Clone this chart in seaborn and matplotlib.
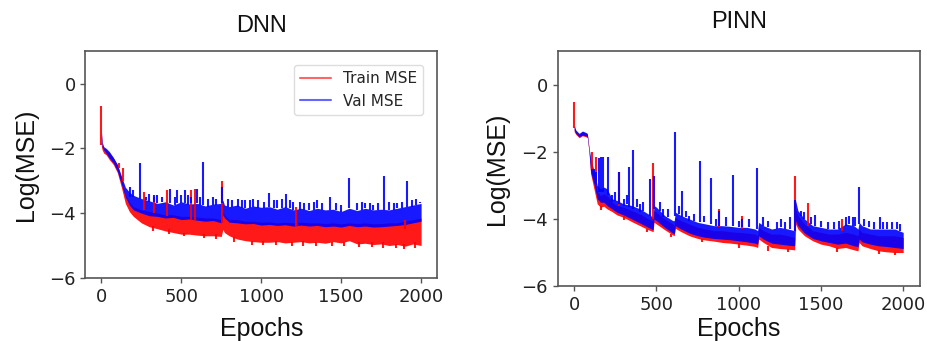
import matplotlib
matplotlib.use("Agg")
import pandas as pd
import matplotlib.pyplot as plt
import seaborn as sns

# -----------------------------------------------------------
# Data (log MSE, lower / upper edge of the noisy band)
# -----------------------------------------------------------
dnn_epochs = [0, 5, 15, 30, 50, 75, 100, 125, 150, 175,
              200, 250, 300, 350, 400, 450, 500, 550, 600, 650, 700, 750,
              760, 770, 800, 850, 900, 950, 1000, 1050, 1100, 1150, 1200,
              1250, 1300, 1350, 1400, 1450, 1500, 1550, 1600, 1650, 1700,
              1750, 1800, 1850, 1900, 1950, 2000]
dnn_train_low = [-1.95, -2.05, -2.15, -2.2, -2.35, -2.5, -2.75, -3.2, -3.7, -3.95,
                 -4.1, -4.3, -4.42, -4.48, -4.55, -4.6, -4.65, -4.65, -4.68, -4.7, -4.7, -4.72,
                 -4.5, -4.6, -4.7, -4.8, -4.85, -4.88, -4.9, -4.9, -4.88, -4.92, -4.9,
                 -4.88, -4.92, -4.9, -4.93, -4.88, -4.92, -4.85, -4.95, -4.93, -4.97,
                 -4.95, -5.0, -4.97, -5.02, -4.95, -5.0]
dnn_train_high = [-1.5, -1.9, -2.0, -2.05, -2.15, -2.3, -2.5, -2.9, -3.45, -3.65,
                  -3.8, -3.9, -3.95, -4.0, -4.05, -4.05, -4.1, -4.1, -4.12, -4.15, -4.15, -4.2,
                  -3.95, -4.05, -4.2, -4.2, -4.25, -4.25, -4.28, -4.27, -4.3, -4.28, -4.3,
                  -4.28, -4.3, -4.3, -4.32, -4.3, -4.33, -4.3, -4.32, -4.3, -4.33,
                  -4.32, -4.3, -4.3, -4.25, -4.2, -4.15]
dnn_val_low = [-1.7, -1.95, -2.05, -2.15, -2.3, -2.45, -2.7, -3.1, -3.5, -3.75,
               -3.9, -4.0, -4.08, -4.1, -4.15, -4.13, -4.2, -4.18, -4.22, -4.25, -4.23, -4.3,
               -4.05, -4.15, -4.28, -4.3, -4.33, -4.32, -4.37, -4.35, -4.38, -4.36, -4.4,
               -4.37, -4.4, -4.38, -4.42, -4.4, -4.43, -4.38, -4.42, -4.4, -4.43,
               -4.42, -4.4, -4.38, -4.35, -4.3, -4.25]
dnn_val_high = [-1.45, -1.8, -1.95, -2.0, -2.1, -2.28, -2.5, -2.85, -3.2, -3.35,
                -3.45, -3.55, -3.62, -3.7, -3.65, -3.75, -3.65, -3.72, -3.7, -3.78, -3.72, -3.7,
                -3.6, -3.75, -3.8, -3.75, -3.85, -3.78, -3.82, -3.8, -3.88, -3.8, -3.9,
                -3.85, -3.92, -3.85, -3.9, -3.88, -3.95, -3.85, -3.92, -3.85, -3.9,
                -3.88, -3.9, -3.85, -3.8, -3.75, -3.7]

# single-epoch spikes: epoch, band level, peak
dnn_train_spike_epoch = [0, 109, 136, 266, 330, 408, 563, 586, 754, 1217, 1900,
                         320, 420, 520, 640, 720, 830, 940, 1010, 1090, 1190,
                         1260, 1340, 1440, 1520, 1610, 1690, 1760, 1840, 1890, 1960]
dnn_train_spike_base = [-1.9, -2.6, -3.0, -3.9, -4.0, -4.1, -4.2, -4.2, -4.3, -4.4, -4.5,
                        -4.4, -4.5, -4.6, -4.65, -4.65, -4.75, -4.85, -4.85, -4.85, -4.88,
                        -4.85, -4.88, -4.88, -4.88, -4.9, -4.9, -4.9, -4.95, -4.95, -4.9]
dnn_train_spike_top = [-0.69, -2.45, -2.6, -3.35, -3.5, -3.3, -3.3, -3.25, -3.0, -3.8, -4.2,
                       -4.55, -4.65, -4.72, -4.78, -4.8, -4.88, -4.97, -4.98, -4.98, -5.0,
                       -5.0, -5.02, -5.0, -5.02, -5.05, -5.05, -5.08, -5.08, -5.1, -5.08]
dnn_val_spike_epoch = [180, 241, 280, 330, 380, 430, 471, 523, 560, 601, 637, 700, 754,
                       852, 900, 950, 1047, 1100, 1156, 1200, 1300, 1350, 1428, 1550,
                       1650, 1700, 1770, 1850, 1910, 1990,
                       200, 300, 350, 460, 500, 540, 620, 670, 720, 790, 820, 880, 930,
                       980, 1020, 1080, 1130, 1180, 1240, 1270, 1330, 1380, 1470, 1500,
                       1600, 1630, 1680, 1730, 1800, 1830, 1880, 1940, 1970]
dnn_val_spike_base = [-3.5, -3.55, -3.6, -3.65, -3.65, -3.7, -3.7, -3.7, -3.7, -3.7, -3.75, -3.75, -3.7,
                      -3.8, -3.85, -3.8, -3.8, -3.85, -3.85, -3.9, -3.9, -3.85, -3.9, -3.85,
                      -3.85, -3.9, -3.9, -3.85, -3.8, -3.7,
                      -3.5, -3.65, -3.7, -3.75, -3.7, -3.75, -3.75, -3.8, -3.75, -3.8, -3.8, -3.85, -3.85,
                      -3.85, -3.85, -3.85, -3.85, -3.85, -3.9, -3.9, -3.9, -3.9, -3.9, -3.95,
                      -3.9, -3.9, -3.9, -3.9, -3.9, -3.9, -3.85, -3.8, -3.75]
dnn_val_spike_top = [-3.2, -2.46, -3.5, -3.45, -3.5, -3.25, -3.3, -3.3, -3.5, -3.25, -2.41, -3.5, -3.2,
                     -3.55, -3.6, -3.55, -3.38, -3.6, -3.4, -3.65, -3.7, -3.6, -3.49, -2.91,
                     -3.7, -3.75, -2.84, -3.7, -3.0, -3.65,
                     -3.3, -3.4, -3.45, -3.5, -3.45, -3.45, -3.5, -3.55, -3.55, -3.55, -3.6, -3.6, -3.6,
                     -3.6, -3.65, -3.6, -3.55, -3.6, -3.65, -3.7, -3.65, -3.7, -3.7, -3.75,
                     -3.7, -3.65, -3.7, -3.7, -3.65, -3.7, -3.65, -3.6, -3.55]

pinn_epochs = [0, 10, 30, 50, 70, 80, 90, 100, 120, 140,
               160, 180, 200, 230, 260, 300, 350, 400, 450, 480,
               485, 500, 550, 600, 608, 615, 650, 700, 750, 800,
               850, 900, 950, 1000, 1050, 1100, 1115, 1122, 1150, 1200,
               1250, 1300, 1340, 1346, 1360, 1400, 1450, 1500, 1550, 1600,
               1650, 1700, 1725, 1732, 1750, 1800, 1850, 1900, 1950, 2000]
pinn_train_low = [-1.4, -1.48, -1.58, -1.52, -1.55, -1.58, -2.0, -2.65, -3.1, -3.55,
                  -3.65, -3.62, -3.7, -3.78, -3.88, -3.95, -4.08, -4.2, -4.32, -4.38,
                  -4.1, -4.15, -4.32, -4.48, -4.5, -4.28, -4.38, -4.5, -4.58, -4.63,
                  -4.66, -4.7, -4.72, -4.75, -4.78, -4.82, -4.85, -4.6, -4.7, -4.85,
                  -4.88, -4.9, -4.92, -4.15, -4.3, -4.5, -4.65, -4.75, -4.8, -4.88,
                  -4.85, -4.92, -4.95, -4.7, -4.8, -4.88, -4.95, -4.98, -5.0, -5.0]
pinn_train_high = [-1.25, -1.38, -1.48, -1.4, -1.45, -1.48, -1.9, -2.3, -2.7, -3.2,
                   -3.3, -3.25, -3.3, -3.5, -3.6, -3.65, -3.75, -3.85, -4.0, -4.05,
                   -3.75, -3.8, -4.0, -4.15, -4.2, -3.95, -4.05, -4.15, -4.25, -4.3,
                   -4.35, -4.35, -4.38, -4.4, -4.42, -4.45, -4.5, -4.25, -4.35, -4.45,
                   -4.45, -4.5, -4.55, -3.7, -3.9, -4.15, -4.35, -4.4, -4.45, -4.45,
                   -4.4, -4.45, -4.5, -4.3, -4.4, -4.45, -4.5, -4.5, -4.5, -4.55]
pinn_val_low = [-1.35, -1.45, -1.55, -1.5, -1.52, -1.55, -1.97, -2.6, -2.95, -3.4,
                -3.5, -3.5, -3.6, -3.7, -3.8, -3.88, -4.0, -4.12, -4.25, -4.32,
                -4.0, -4.05, -4.25, -4.42, -4.45, -4.2, -4.3, -4.42, -4.5, -4.55,
                -4.58, -4.6, -4.62, -4.65, -4.68, -4.72, -4.75, -4.5, -4.6, -4.72,
                -4.75, -4.78, -4.8, -4.05, -4.2, -4.42, -4.58, -4.65, -4.7, -4.75,
                -4.72, -4.8, -4.82, -4.6, -4.68, -4.75, -4.8, -4.82, -4.85, -4.88]
pinn_val_high = [-1.2, -1.35, -1.45, -1.38, -1.42, -1.45, -1.85, -2.2, -2.55, -3.0,
                 -3.1, -3.05, -3.1, -3.4, -3.45, -3.55, -3.6, -3.7, -3.85, -3.95,
                 -3.6, -3.65, -3.9, -4.05, -4.05, -3.8, -3.9, -4.0, -4.1, -4.15,
                 -4.2, -4.2, -4.22, -4.25, -4.25, -4.3, -4.35, -4.1, -4.2, -4.3,
                 -4.25, -4.3, -4.35, -3.45, -3.75, -4.0, -4.2, -4.25, -4.3, -4.3,
                 -4.15, -4.2, -4.3, -4.1, -4.2, -4.3, -4.3, -4.3, -4.3, -4.4]

pinn_train_spike_epoch = [0, 107, 132, 273, 482, 880, 1020, 1342, 1423, 1626,
                          160, 300, 440, 590, 780, 1000, 1180, 1300, 1600, 1850, 1950]
pinn_train_spike_base = [-1.3, -2.5, -3.0, -3.6, -4.0, -4.25, -4.3, -4.4, -4.2, -4.35,
                         -3.6, -3.9, -4.3, -4.45, -4.6, -4.72, -4.82, -4.88, -4.85, -4.92, -4.97]
pinn_train_spike_top = [-0.52, -2.0, -2.14, -2.6, -2.34, -3.7, -3.9, -2.71, -3.52, -4.0,
                        -3.72, -4.02, -4.4, -4.55, -4.7, -4.85, -4.95, -4.98, -4.98, -5.05, -5.08]
pinn_val_spike_epoch = [120, 130, 148, 164, 178, 204, 230, 273, 300, 334, 360, 400, 461, 488,
                        540, 613, 658, 700, 765, 830, 880, 964, 1020, 1113, 1230, 1310, 1342,
                        1380, 1464, 1580, 1650, 1692, 1731, 1858, 1900, 1960,
                        250, 320, 380, 420, 520, 570, 640, 680, 730, 790, 860, 920, 1000,
                        1060, 1150, 1180, 1260, 1280, 1400, 1440, 1500, 1540, 1610, 1670,
                        1710, 1760, 1790, 1820, 1880, 1930, 1980]
pinn_val_spike_base = [-2.8, -3.0, -3.2, -3.2, -3.2, -3.3, -3.5, -3.55, -3.6, -3.65, -3.7, -3.8, -3.9, -3.7,
                       -3.95, -3.9, -3.95, -4.05, -4.1, -4.15, -4.2, -4.22, -4.25, -4.3, -4.3, -4.3, -4.35,
                       -3.9, -4.2, -4.3, -4.2, -4.2, -4.15, -4.3, -4.3, -4.3,
                       -3.45, -3.55, -3.65, -3.75, -3.75, -3.95, -3.85, -3.95, -4.05, -4.1, -4.2, -4.2, -4.25,
                       -4.25, -4.2, -4.25, -4.25, -4.3, -4.0, -4.15, -4.25, -4.3, -4.3, -4.15,
                       -4.2, -4.2, -4.25, -4.3, -4.3, -4.3, -4.35]
pinn_val_spike_top = [-2.5, -2.6, -2.19, -2.15, -2.15, -2.15, -3.3, -2.59, -3.4, -2.44, -1.95, -3.55, -2.8, -2.73,
                      -3.7, -1.41, -3.18, -3.9, -2.27, -2.79, -3.75, -2.69, -4.0, -2.49, -4.1, -3.95, -3.42,
                      -3.75, -3.88, -4.1, -3.95, -3.95, -3.06, -3.93, -4.1, -4.1,
                      -3.2, -3.3, -3.4, -3.5, -3.5, -3.7, -3.6, -3.75, -3.85, -3.9, -4.0, -3.95, -4.05,
                      -4.0, -3.95, -4.05, -4.0, -4.1, -3.8, -3.95, -4.05, -4.1, -4.05, -3.9,
                      -3.95, -4.0, -4.05, -4.1, -4.1, -4.1, -4.15]

colors = {"Train MSE": "#ff0000", "Val MSE": "#0000ff"}
alphas = {"Train MSE": 0.9, "Val MSE": 0.9}


def band_frame(epochs, train_lo, train_hi, val_lo, val_hi):
    # two readings per epoch -> seaborn draws the min/max band
    parts = []
    for name, lo, hi in [("Train MSE", train_lo, train_hi), ("Val MSE", val_lo, val_hi)]:
        parts.append(pd.DataFrame({"epoch": epochs + epochs,
                                   "logmse": lo + hi,
                                   "series": name}))
    return pd.concat(parts, ignore_index=True)


dnn_df = band_frame(dnn_epochs, dnn_train_low, dnn_train_high, dnn_val_low, dnn_val_high)
pinn_df = band_frame(pinn_epochs, pinn_train_low, pinn_train_high, pinn_val_low, pinn_val_high)

# -----------------------------------------------------------
# Plot
# -----------------------------------------------------------
sns.set_theme(style="ticks")
plt.rcParams["font.family"] = ["DejaVu Sans"]
plt.rcParams["axes.edgecolor"] = "#555555"
plt.rcParams["xtick.color"] = "#555555"
plt.rcParams["ytick.color"] = "#555555"
plt.rcParams["xtick.labelcolor"] = "#222222"
plt.rcParams["ytick.labelcolor"] = "#222222"

fig, axes = plt.subplots(1, 2, figsize=(9.28, 3.41), dpi=100)
axes[0].set_position([0.092, 0.185, 0.379, 0.665])
axes[1].set_position([0.601, 0.161, 0.390, 0.689])

panels = [
    (axes[0], dnn_df, "DNN",
     {"Train MSE": (dnn_train_spike_epoch, dnn_train_spike_base, dnn_train_spike_top),
      "Val MSE": (dnn_val_spike_epoch, dnn_val_spike_base, dnn_val_spike_top)}, 14, 8, 8),
    (axes[1], pinn_df, "PINN",
     {"Train MSE": (pinn_train_spike_epoch, pinn_train_spike_base, pinn_train_spike_top),
      "Val MSE": (pinn_val_spike_epoch, pinn_val_spike_base, pinn_val_spike_top)}, 17, 9, 2),
]

label_font = {"family": "Liberation Sans", "size": 18, "color": "#111111"}

for ax, df, title, spikes, tpad, ypad, xpad in panels:
    # train first so validation sits on top
    for name in ["Train MSE", "Val MSE"]:
        sns.lineplot(data=df[df["series"] == name], x="epoch", y="logmse",
                     color=colors[name], estimator="mean", errorbar=("pi", 100),
                     err_kws={"alpha": alphas[name], "linewidth": 0},
                     linewidth=0, label=name, ax=ax)
        ep, base, top = spikes[name]
        ax.vlines(ep, base, top, color=colors[name], alpha=alphas[name], linewidth=1.5)

    ax.set_xlim(-100, 2100)
    ax.set_ylim(-6, 1)
    ax.set_xticks([0, 500, 1000, 1500, 2000])
    ax.set_yticks([-6, -4, -2, 0])
    ax.tick_params(labelsize=13, length=3.5, width=1)
    for s in ax.spines.values():
        s.set_visible(True)
        s.set_linewidth(1.2)
    ax.set_title(title, fontdict={"family": "Liberation Sans", "size": 17, "color": "#111111"}, pad=tpad)
    ax.set_xlabel("Epochs", fontdict=label_font, labelpad=xpad)
    ax.set_ylabel("Log(MSE)", fontdict=label_font, labelpad=ypad)

axes[1].get_legend().remove()
leg = axes[0].legend(loc="upper right", fontsize=11, borderaxespad=0.9, framealpha=1)
leg.get_frame().set_edgecolor("#dddddd")
for h in leg.get_lines():
    h.set_linewidth(1.5)
    h.set_alpha(0.6)

plt.savefig("out.png", dpi=100)
